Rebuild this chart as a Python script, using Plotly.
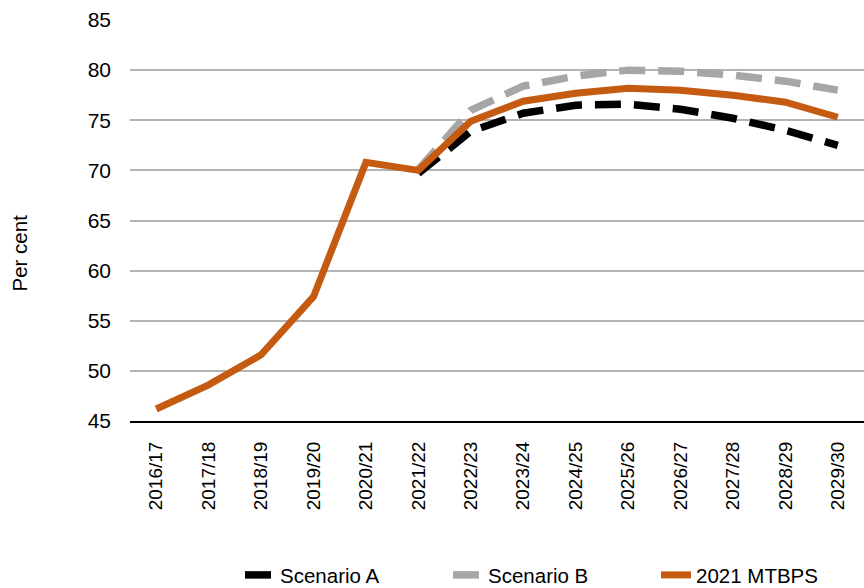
import plotly.graph_objects as go

# Fiscal years on the category axis
years = ["2016/17", "2017/18", "2018/19", "2019/20", "2020/21", "2021/22", "2022/23",
         "2023/24", "2024/25", "2025/26", "2026/27", "2027/28", "2028/29", "2029/30"]

# Debt projections, per cent of GDP
mtbps_2021 = [46.2, 48.6, 51.6, 57.4, 70.8, 70.0, 74.9, 76.9, 77.7, 78.2, 78.0, 77.5, 76.8, 75.3]
scenario_a_years = years[5:]
scenario_a = [69.7, 73.9, 75.7, 76.5, 76.6, 76.1, 75.2, 74.0, 72.5]
scenario_b_years = years[5:]
scenario_b = [70.1, 76.0, 78.4, 79.4, 80.0, 79.9, 79.5, 78.9, 78.0]

y_ticks = [45, 50, 55, 60, 65, 70, 75, 80, 85]

font = "Liberation Sans, Arial, sans-serif"

fig = go.Figure()
fig.add_trace(go.Scatter(
    x=scenario_a_years, y=scenario_a, name="Scenario A", mode="lines",
    line=dict(color="#000000", width=7.5, dash="26px,13px"),
))
fig.add_trace(go.Scatter(
    x=scenario_b_years, y=scenario_b, name="Scenario B", mode="lines",
    line=dict(color="#a6a6a6", width=7.5, dash="26px,13px"),
))
fig.add_trace(go.Scatter(
    x=years, y=mtbps_2021, name="2021 MTBPS", mode="lines",
    line=dict(color="#c55a11", width=7),
))

fig.update_layout(
    width=864, height=588,
    margin=dict(l=130, r=0, t=20, b=167),
    paper_bgcolor="white", plot_bgcolor="white",
    font=dict(family=font, size=21, color="#000000"),
    showlegend=True,
    legend=dict(
        orientation="h", xref="container", yref="container",
        x=240 / 864, xanchor="left", y=0.022, yanchor="middle",
        font=dict(size=20.5), bgcolor="rgba(0,0,0,0)",
        entrywidth=163, tracegroupgap=0,
    ),
    xaxis=dict(
        type="category", categoryorder="array", categoryarray=years,
        range=[-0.5, len(years) - 0.5],
        tickangle=-90, showgrid=False, showline=True,
        linecolor="#000000", linewidth=2, ticks="",
        ticklabelstandoff=11, tickfont=dict(size=19),
    ),
    yaxis=dict(
        range=[45, 85], tickvals=y_ticks, ticks="",
        showgrid=True, gridcolor="#b3b3b3", gridwidth=1.5,
        zeroline=False, showline=False,
        ticklabelstandoff=18, tickfont=dict(size=21),
    ),
    annotations=[dict(
        text="Per cent", textangle=-90, xref="paper", yref="paper",
        x=-0.15, xanchor="center", y=0.42, yanchor="middle",
        showarrow=False, font=dict(size=20.5),
    )],
)

fig.write_html("out.html")
